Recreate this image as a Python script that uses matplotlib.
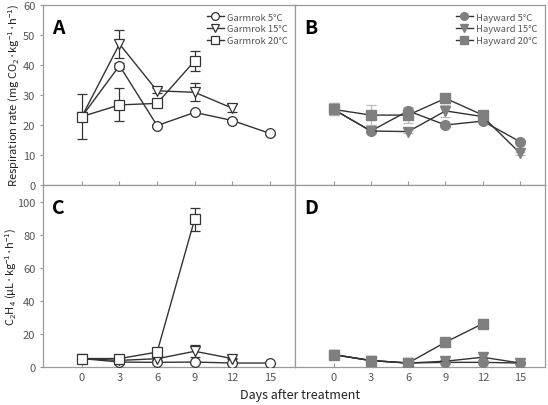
import numpy as np
import matplotlib
matplotlib.use("Agg")
import matplotlib.pyplot as plt

plt.rcParams['font.family'] = ['Noto Sans CJK KR', 'DejaVu Sans']
plt.rcParams['mathtext.fontset'] = 'custom'
plt.rcParams['mathtext.rm'] = 'Noto Sans CJK KR'

days = [0, 3, 6, 9, 12, 15]
temps = ["5°C", "15°C", "20°C"]

# respiration, Garmrok (A)
resp_g5 = [22.8, 39.8, 19.8, 24.2, 21.5, 17.2]
resp_g15 = [22.8, 47.0, 31.4, 30.9, 25.6]
resp_g20 = [22.8, 26.7, 27.2, 41.4]
resp_g5_err = [0, 1.0, 0.5, 0.5, 0.5, 0.5]
resp_g15_err = [0, 4.7, 0.8, 3.0, 1.3]
resp_g20_err = [7.6, 5.5, 0.5, 3.3]

# respiration, Hayward (B)
resp_h5 = [25.2, 18.0, 24.7, 20.0, 21.3, 14.4]
resp_h15 = [25.2, 18.0, 17.8, 24.7, 22.8, 10.6]
resp_h20 = [25.2, 23.3, 23.3, 28.9, 23.3]
resp_h5_err = [2.0, 0.5, 1.0, 0.5, 0.5, 0.5]
resp_h15_err = [2.0, 0.5, 0.5, 2.0, 0.5, 0.5]
resp_h20_err = [2.0, 3.4, 2.7, 0.5, 0.5]

# ethylene, Garmrok (C)
eth_g5 = [5.1, 3.0, 2.8, 3.0, 2.4, 2.4]
eth_g15 = [5.1, 4.0, 5.0, 9.5, 5.1]
eth_g20 = [5.1, 5.1, 9.0, 89.4]
eth_g5_err = [0.5, 0.3, 0.3, 0.3, 0.3, 0.3]
eth_g15_err = [0.5, 0.3, 0.5, 3.7, 0.5]
eth_g20_err = [0.5, 0.5, 0.8, 7.0]

# ethylene, Hayward (D)
eth_h5 = [7.5, 3.9, 2.4, 2.8, 2.8, 2.4]
eth_h15 = [7.5, 3.9, 2.4, 3.5, 5.9, 2.4]
eth_h20 = [7.5, 3.9, 2.4, 15.0, 26.2]

markers = ['o', 'v', 's']
frame_col = '#9a9a9a'
text_col = '#555555'
line_col = '#333333'
fill_col = '#7f7f7f'

fig = plt.figure(figsize=(5.48, 4.06), dpi=100)
L, M, R = 43 / 548, 295 / 548, 545 / 548
T, C, B = 1 - 6 / 406, 1 - 186 / 406, 1 - 368 / 406
axA = fig.add_axes([L, C, M - L, T - C])
axB = fig.add_axes([M, C, R - M, T - C])
axC = fig.add_axes([L, B, M - L, C - B])
axD = fig.add_axes([M, B, R - M, C - B])


def draw(ax, series, errs, name, filled, ecol):
    for i, (y, m) in enumerate(zip(series, markers)):
        x = days[:len(y)]
        e = errs[i] if errs is not None else None
        if e is not None:
            ax.errorbar(x, y, yerr=e, fmt='none', ecolor=ecol, elinewidth=0.9,
                        capsize=3.5, capthick=0.9, zorder=2)
        if filled:
            ax.plot(x, y, color=line_col, lw=1.0, marker=m, ms=7,
                    mfc=fill_col, mec=fill_col, zorder=3,
                    label=f"{name} {temps[i]}")
        else:
            ax.plot(x, y, color=line_col, lw=1.0, marker=m, ms=7,
                    mfc='white', mec=line_col, mew=0.9, zorder=3,
                    label=f"{name} {temps[i]}")


draw(axA, [resp_g5, resp_g15, resp_g20], [resp_g5_err, resp_g15_err, resp_g20_err],
     "Garmrok", False, line_col)
draw(axB, [resp_h5, resp_h15, resp_h20], [resp_h5_err, resp_h15_err, resp_h20_err],
     "Hayward", True, '#bbbbbb')
draw(axC, [eth_g5, eth_g15, eth_g20], [eth_g5_err, eth_g15_err, eth_g20_err],
     "Garmrok", False, line_col)
draw(axD, [eth_h5, eth_h15, eth_h20], None, "Hayward", True, '#bbbbbb')

for ax in [axA, axB, axC, axD]:
    ax.set_xlim(-3.1, 17.0)
    ax.set_xticks(days)
    for s in ax.spines.values():
        s.set_color(frame_col)
        s.set_linewidth(0.9)
    ax.tick_params(direction='in', length=3, colors=frame_col, labelcolor=text_col,
                   labelsize=8, width=0.8)

for ax in [axA, axB]:
    ax.set_ylim(0, 60)
    ax.set_yticks(range(0, 61, 10))
    ax.tick_params(axis='x', labelbottom=False)
for ax in [axC, axD]:
    ax.set_ylim(0, 110)
    ax.set_yticks(range(0, 101, 20))
for ax in [axB, axD]:
    ax.tick_params(axis='y', left=False, labelleft=False)
for ax in [axA, axC]:
    ax.tick_params(axis='y', direction='out', length=2)

axA.set_ylabel("Respiration rate (mg CO$_2$·kg$^{-1}$·h$^{-1}$)", fontsize=8,
               color='#222222')
axC.set_ylabel("C$_2$H$_4$ (μL·kg$^{-1}$·h$^{-1}$)", fontsize=8, color='#222222')
axA.yaxis.set_label_coords(-0.085, 0.5)
axC.yaxis.set_label_coords(-0.095, 0.5)
fig.text(0.548, 0.01, "Days after treatment", ha='center', va='bottom',
         fontsize=9, color='#222222')

for ax, letter in zip([axA, axB, axC, axD], "ABCD"):
    ax.text(0.035, 0.93, letter, transform=ax.transAxes, fontsize=14,
            fontweight='bold', va='top', ha='left', color='black')

for ax in [axA, axB]:
    leg = ax.legend(loc='upper right', frameon=False, fontsize=6.8,
                    handlelength=1.8, handletextpad=0.3, labelspacing=0.3,
                    borderaxespad=0.4, markerscale=0.8)
    for t in leg.get_texts():
        t.set_color(text_col)

fig.savefig("out.png", dpi=100)
